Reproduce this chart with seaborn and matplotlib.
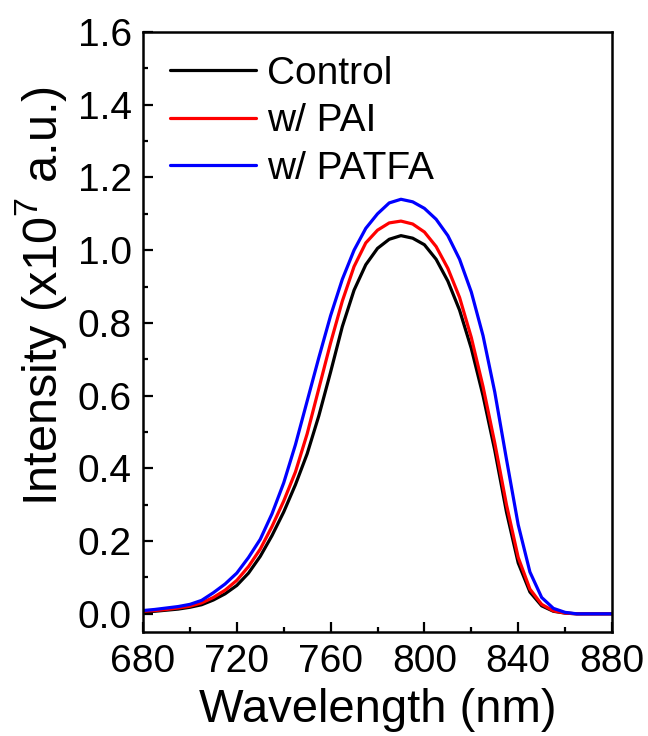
import numpy as np
import pandas as pd
import matplotlib
matplotlib.use("Agg")
import matplotlib.pyplot as plt
import seaborn as sns
from matplotlib.ticker import MultipleLocator

wavelength = [680, 685, 690, 695, 700, 705, 710, 715, 720, 725, 730, 735, 740,
              745, 750, 755, 760, 765, 770, 775, 780, 785, 790, 795, 800, 805,
              810, 815, 820, 825, 830, 835, 840, 845, 850, 855, 860, 865, 870,
              875, 880]
control = [0.005, 0.007, 0.010, 0.013, 0.018, 0.025, 0.038, 0.055, 0.078, 0.112,
           0.158, 0.215, 0.280, 0.355, 0.440, 0.545, 0.665, 0.790, 0.890, 0.960,
           1.005, 1.030, 1.040, 1.033, 1.015, 0.975, 0.915, 0.835, 0.730, 0.600,
           0.450, 0.280, 0.140, 0.060, 0.022, 0.007, 0.002, 0.0, 0.0, 0.0, 0.0]
pai = [0.007, 0.009, 0.012, 0.016, 0.021, 0.030, 0.045, 0.065, 0.092, 0.130,
       0.178, 0.240, 0.310, 0.390, 0.495, 0.620, 0.745, 0.860, 0.955, 1.020,
       1.055, 1.075, 1.080, 1.072, 1.050, 1.010, 0.950, 0.870, 0.760, 0.625,
       0.470, 0.300, 0.155, 0.068, 0.026, 0.008, 0.002, 0.0, 0.0, 0.0, 0.0]
patfa = [0.009, 0.012, 0.016, 0.020, 0.026, 0.037, 0.058, 0.082, 0.112, 0.155,
         0.205, 0.275, 0.360, 0.465, 0.585, 0.705, 0.820, 0.920, 1.000, 1.060,
         1.100, 1.130, 1.140, 1.133, 1.115, 1.085, 1.040, 0.975, 0.885, 0.765,
         0.610, 0.425, 0.245, 0.115, 0.045, 0.015, 0.004, 0.0, 0.0, 0.0, 0.0]
series_names = ["Control", "w/ PAI", "w/ PATFA"]
colors = ["#000000", "#ff0000", "#0000ff"]
x_ticks = [680, 720, 760, 800, 840, 880]
y_ticks = [0.0, 0.2, 0.4, 0.6, 0.8, 1.0, 1.2, 1.4, 1.6]

sns.set_theme(style="white")
plt.rcParams["font.family"] = ["Liberation Sans", "DejaVu Sans"]
plt.rcParams["mathtext.fontset"] = "custom"
plt.rcParams["mathtext.rm"] = "Liberation Sans"
for k in ["text.color", "axes.labelcolor", "xtick.color", "ytick.color"]:
    plt.rcParams[k] = "black"

df = pd.DataFrame({
    "Wavelength": wavelength * 3,
    "Intensity": control + pai + patfa,
    "Sample": [series_names[0]] * len(wavelength) + [series_names[1]] * len(wavelength)
              + [series_names[2]] * len(wavelength),
})

fig = plt.figure(figsize=(6.48, 7.36), dpi=100)
ax = fig.add_axes([143 / 648, 1 - 632 / 736, (612 - 143) / 648, (632 - 32) / 736])

sns.lineplot(data=df, x="Wavelength", y="Intensity", hue="Sample",
             palette=dict(zip(series_names, colors)), linewidth=2.3, ax=ax)

ax.set_xlim(680, 880)
ax.set_ylim(-0.05, 1.6)
ax.set_xticks(x_ticks)
ax.set_yticks(y_ticks)
ax.set_yticklabels([f"{v:.1f}" for v in y_ticks])
ax.xaxis.set_minor_locator(MultipleLocator(20))
ax.yaxis.set_minor_locator(MultipleLocator(0.1))
ax.tick_params(which="both", direction="in", top=False, right=False,
               bottom=True, left=True, labelsize=28, width=1.6, colors="black")
ax.tick_params(which="major", length=7)
ax.tick_params(axis="x", which="major", pad=9)
ax.tick_params(axis="y", which="major", pad=8)
ax.tick_params(which="minor", length=3.5)
for s in ax.spines.values():
    s.set_linewidth(1.8)
    s.set_color("black")

ax.set_xlabel("Wavelength (nm)", fontsize=34, color="black")
ax.set_ylabel("Intensity (x10$^{7}$ a.u.)", fontsize=35, color="black")
ax.xaxis.set_label_coords(0.5, -0.094)
ax.yaxis.set_label_coords(-0.157, 0.56)

leg = ax.legend(loc="upper left", bbox_to_anchor=(0.0, 1.006), frameon=False,
                fontsize=28, handlelength=2.2, handletextpad=0.3,
                labelspacing=0.3, borderaxespad=0.3)
for line in leg.get_lines():
    line.set_linewidth(2.3)
for t in leg.get_texts():
    t.set_color("black")

fig.savefig("out.png", dpi=100)
